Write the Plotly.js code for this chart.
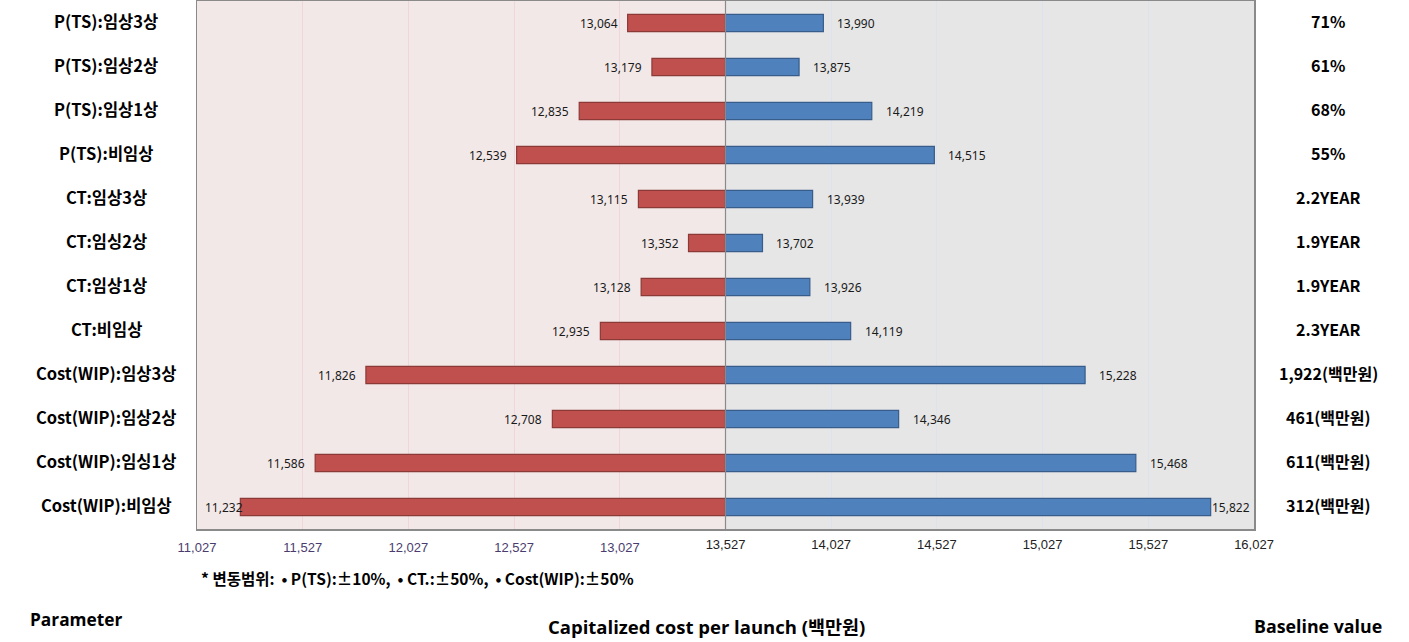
<!DOCTYPE html>
<html><head><meta charset="utf-8">
<script src="https://cdn.plot.ly/plotly-3.0.1.min.js"></script>
<style>html,body{margin:0;padding:0;background:#fff;}#chart{width:1409px;height:642px;}</style>
</head><body><div id="chart"></div>
<script>
const categories = ["P(TS):임상3상","P(TS):임상2상","P(TS):임상1상","P(TS):비임상","CT:임상3상","CT:임싱2상","CT:임상1상","CT:비임상","Cost(WIP):임상3상","Cost(WIP):임상2상","Cost(WIP):임싱1상","Cost(WIP):비임상"];
const lowValues = [13064,13179,12835,12539,13115,13352,13128,12935,11826,12708,11586,11232];
const highValues = [13990,13875,14219,14515,13939,13702,13926,14119,15228,14346,15468,15822];
const baselineValues = ["71%","61%","68%","55%","2.2YEAR","1.9YEAR","1.9YEAR","2.3YEAR","1,922(백만원)","461(백만원)","611(백만원)","312(백만원)"];
const baseCost = 13527;
const leftTicks = [11027,11527,12027,12527,13027];
const rightTicks = [13527,14027,14527,15027,15527,16027];
const xMin = 11027, xMax = 16027;

const fmt = v => v.toLocaleString('en-US');
const CJK = '"Noto Sans CJK KR", "Noto Sans", sans-serif';
const NUM = '"Noto Sans", "Liberation Sans", sans-serif';

const traces = [
  {type:'bar', orientation:'h', y:categories, x:lowValues.map(v=>v-baseCost), base:baseCost,
   width:0.39, marker:{color:'#C0504D', line:{color:'#8C3A38', width:1.2}}, hoverinfo:'skip', showlegend:false},
  {type:'bar', orientation:'h', y:categories, x:highValues.map(v=>v-baseCost), base:baseCost,
   width:0.39, marker:{color:'#4F81BD', line:{color:'#385D8A', width:1.2}}, hoverinfo:'skip', showlegend:false},
  {type:'scatter', x:[xMin], y:[categories[0]], xaxis:'x2', mode:'markers', marker:{opacity:0}, hoverinfo:'skip', showlegend:false}
];

const plotW = 1409-197-155;
const pxPer = plotW/(xMax-xMin);
const annotations = [];
categories.forEach((c,i)=>{
  const lowPx = (lowValues[i]-xMin)*pxPer;
  if (lowPx < 55) {
    annotations.push({x:xMin, y:c, xref:'x', yref:'y', text:fmt(lowValues[i]), showarrow:false, xanchor:'left', xshift:6, font:{family:NUM, size:12, color:'#1a1a1a'}});
  } else {
    annotations.push({x:lowValues[i], y:c, xref:'x', yref:'y', text:fmt(lowValues[i]), showarrow:false, xanchor:'right', xshift:-8, font:{family:NUM, size:12, color:'#1a1a1a'}});
  }
  const highPx = (xMax-highValues[i])*pxPer;
  if (highPx < 55) {
    annotations.push({x:highValues[i], y:c, xref:'x', yref:'y', text:fmt(highValues[i]), showarrow:false, xanchor:'left', xshift:-1, font:{family:NUM, size:12, color:'#1a1a1a'}});
  } else {
    annotations.push({x:highValues[i], y:c, xref:'x', yref:'y', text:fmt(highValues[i]), showarrow:false, xanchor:'left', xshift:12, font:{family:NUM, size:12, color:'#1a1a1a'}});
  }
  annotations.push({x:(106-197)/plotW, xref:'paper', y:c, yref:'y', yshift:2, text:'<b>'+c+'</b>', showarrow:false, xanchor:'center', font:{family:CJK, size:16.5, color:'#000'}});
  annotations.push({x:(1328-197)/plotW, xref:'paper', y:c, yref:'y', yshift:2, text:'<b>'+baselineValues[i]+'</b>', showarrow:false, xanchor:'center', font:{family:CJK, size:16, color:'#000'}});
});
annotations.push({x:(199-197)/plotW, xref:'paper', y:-49/528, yref:'paper', yanchor:'middle', xanchor:'left', showarrow:false,
  text:'<b>* 변동범위:  • P(TS):±10%,  • CT.:±50%,  • Cost(WIP):±50%</b>', font:{family:CJK, size:15.5, color:'#000'}});
annotations.push({x:(28-197)/plotW, xref:'paper', y:-90/528, yref:'paper', yanchor:'middle', xanchor:'left', showarrow:false,
  text:'<b>Parameter</b>', font:{family:'"Open Sans", sans-serif', size:17.3, color:'#000'}});
annotations.push({x:(706-197)/plotW, xref:'paper', y:-97/528, yref:'paper', yanchor:'middle', xanchor:'center', showarrow:false,
  text:'<b>Capitalized cost per launch (백만원)</b>', font:{family:'"Open Sans", "Noto Sans CJK KR", sans-serif', size:18.5, color:'#000'}});
annotations.push({x:(1384-197)/plotW, xref:'paper', y:-97/528, yref:'paper', yanchor:'middle', xanchor:'right', showarrow:false,
  text:'<b>Baseline value</b>', font:{family:'"Open Sans", sans-serif', size:17.8, color:'#000'}});

const layout = {
  width:1409, height:642,
  margin:{l:197, r:155, t:1, b:113},
  paper_bgcolor:'#ffffff', plot_bgcolor:'#E6E6E6',
  barmode:'overlay', bargap:0.6,
  xaxis:{range:[xMin,xMax], tickvals:leftTicks, ticktext:leftTicks.map(fmt), showgrid:true, gridcolor:'#F0D6DA', gridwidth:1,
    zeroline:false, showline:true, mirror:true, linecolor:'#8A8A8A', linewidth:1.5, ticks:'', ticklabelstandoff:6,
    tickfont:{family:'"Liberation Sans", Arial, sans-serif', size:13, color:'#4A3C6E'}, fixedrange:true},
  xaxis2:{range:[xMin,xMax], overlaying:'x', side:'bottom', anchor:'y', tickvals:rightTicks, ticktext:rightTicks.map(fmt), showgrid:true, gridcolor:'#DCE3EE', gridwidth:1,
    zeroline:false, showline:false, ticks:'', ticklabelstandoff:6,
    tickfont:{family:'"Liberation Sans", Arial, sans-serif', size:13, color:'#222'}, fixedrange:true},
  yaxis:{type:'category', categoryorder:'array', categoryarray:categories, range:[11.5,-0.5], showticklabels:false, ticks:'',
    showgrid:false, zeroline:false, showline:true, mirror:true, linecolor:'#8A8A8A', linewidth:1.5, fixedrange:true},
  shapes:[
    {type:'rect', xref:'x', yref:'paper', x0:xMin, x1:baseCost, y0:0, y1:1, fillcolor:'#F2E8E8', line:{width:0}, layer:'below'},
    {type:'line', xref:'x', yref:'paper', x0:baseCost, x1:baseCost, y0:0, y1:1, line:{color:'#8A8A8A', width:1.2}, layer:'above'}
  ],
  annotations:annotations
};
Plotly.newPlot('chart', traces, layout, {displayModeBar:false, staticPlot:true});
</script></body></html>
